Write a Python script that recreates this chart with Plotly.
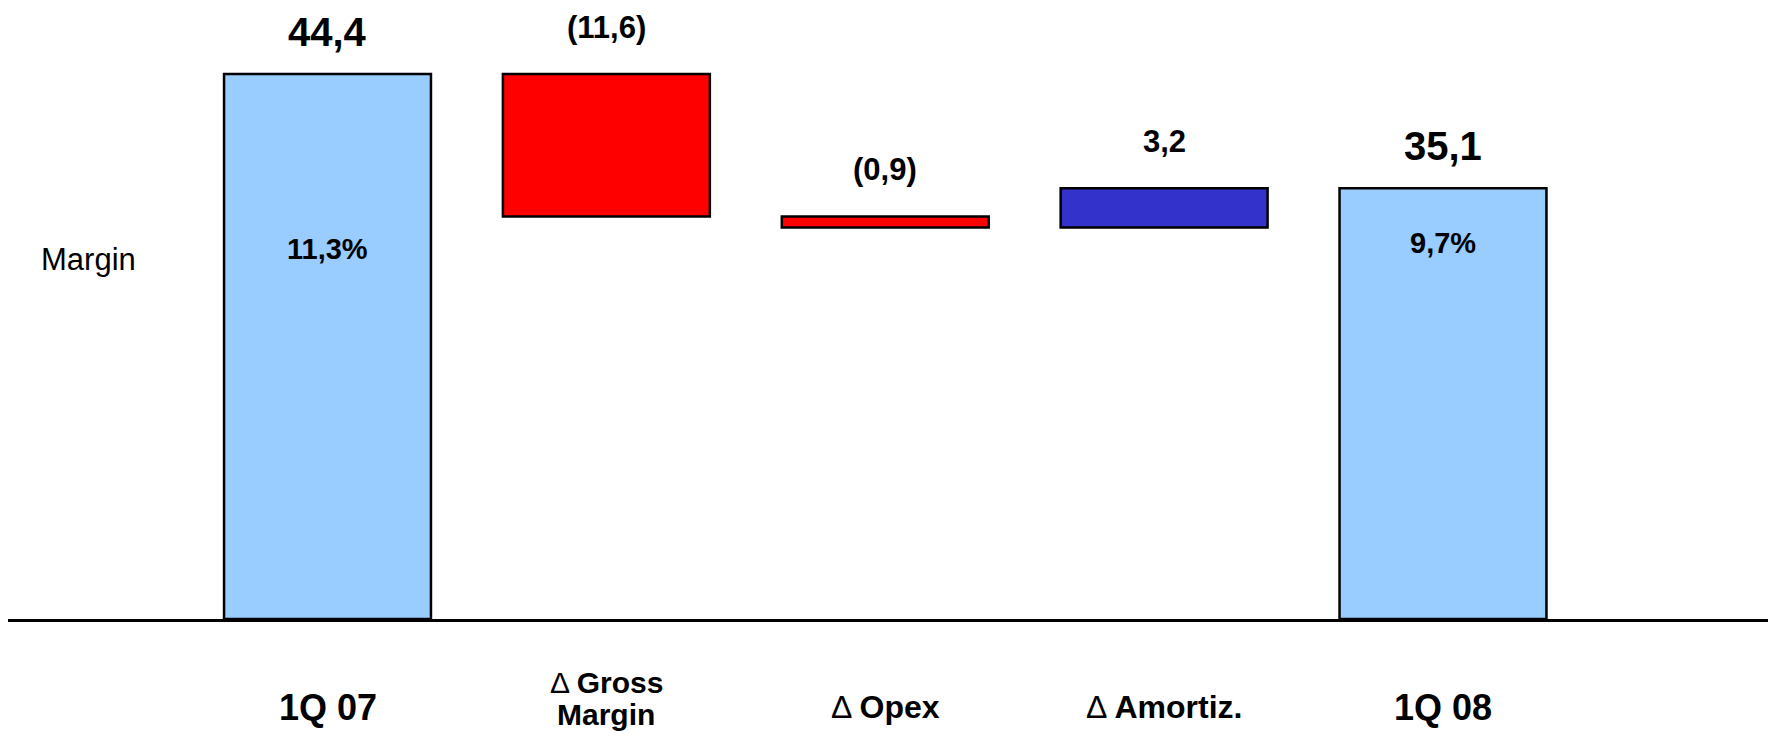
import plotly.graph_objects as go

# ---- data ----
categories = ["1Q 07", "Δ Gross Margin", "Δ Opex", "Δ Amortiz.", "1Q 08"]
tick_label_lines = [["<b>1Q 07</b>"], ["Δ <b>Gross</b>", "<b>Margin</b>"], ["Δ <b>Opex</b>"],
                    ["Δ <b>Amortiz.</b>"], ["<b>1Q 08</b>"]]
measures = ["absolute", "relative", "relative", "relative", "total"]
values = [44.4, -11.6, -0.9, 3.2, 35.1]
value_labels = ["44,4", "(11,6)", "(0,9)", "3,2", "35,1"]
margin_labels = ["11,3%", None, None, None, "9,7%"]

FONT = "Arial, 'Liberation Sans', sans-serif"
OFF = 8                      # browser body margin
W, H = 1776 - 2 * OFF, 739 - 2 * OFF
PLOT_BOTTOM = 619 - OFF      # px of baseline inside figure
PX_PER_UNIT = (619 - 74) / 44.4

fig = go.Figure()
fig.add_trace(go.Waterfall(
    x=categories, y=values, measure=measures,
    width=0.742,
    connector=dict(visible=False),
    increasing=dict(marker=dict(color="#3333CC", line=dict(color="black", width=2.5))),
    decreasing=dict(marker=dict(color="#FF0000", line=dict(color="black", width=2.5))),
    totals=dict(marker=dict(color="#99CCFF", line=dict(color="black", width=2.5))),
    hoverinfo="skip",
    textinfo="none",
))

# value labels placed above each bar's top (computed from data)
annotations = []
running = 0.0
for cat, m, v, lab in zip(categories, measures, values, value_labels):
    if m == "absolute":
        start, end = 0.0, v
        running = v
    elif m == "relative":
        start, end = running, running + v
        running = end
    else:
        start, end = 0.0, running
    top = max(start, end)
    big = m in ("absolute", "total")
    annotations.append(dict(
        x=cat, y=top, xref="x", yref="y", text=f"<b>{lab}</b>", showarrow=False,
        yanchor="middle", yshift=42 if big else 47,
        font=dict(family=FONT, size=40 if big else 31, color="black")))

ymax = PLOT_BOTTOM / PX_PER_UNIT

# margin row
margin_y_px = {0: 249 - OFF, 4: 243 - OFF}
for i, ml in enumerate(margin_labels):
    if ml:
        annotations.append(dict(
            x=categories[i], y=1 - margin_y_px[i] / PLOT_BOTTOM, xref="x", yref="paper",
            text=f"<b>{ml}</b>", showarrow=False, yanchor="middle",
            font=dict(family=FONT, size=29, color="black")))
annotations.append(dict(
    x=(39 - OFF) / W, y=1 - (259 - OFF) / PLOT_BOTTOM, xref="paper", yref="paper",
    text="Margin", showarrow=False, xanchor="left", yanchor="middle",
    font=dict(family=FONT, size=31, color="black")))

# category labels (one annotation per line)
label_sizes = [36, 30, 32, 32, 36]
for cat, lines, sz in zip(categories, tick_label_lines, label_sizes):
    ys = [707] if len(lines) == 1 else [682, 714]
    for ln, ypx in zip(lines, ys):
        annotations.append(dict(
            x=cat, y=-((ypx - OFF) - PLOT_BOTTOM) / PLOT_BOTTOM,
            xref="x", yref="paper", text=ln, showarrow=False, yanchor="middle",
            font=dict(family=FONT, size=sz, color="black")))

step = (1443 - 327.5) / 4
x_lo = -(327.5 - OFF) / step
x_hi = 4 + (W - (1443 - OFF)) / step

fig.update_layout(
    width=W, height=H, autosize=False,
    margin=dict(l=0, r=0, t=0, b=H - PLOT_BOTTOM, pad=0),
    paper_bgcolor="white", plot_bgcolor="white",
    showlegend=False,
    xaxis=dict(type="category", range=[x_lo, x_hi], showticklabels=False, ticks="",
               showgrid=False, zeroline=False, showline=True, linecolor="black", linewidth=3),
    yaxis=dict(range=[0, ymax], visible=False, showgrid=False, zeroline=False),
    annotations=annotations,
)

fig.write_html("out.html")
